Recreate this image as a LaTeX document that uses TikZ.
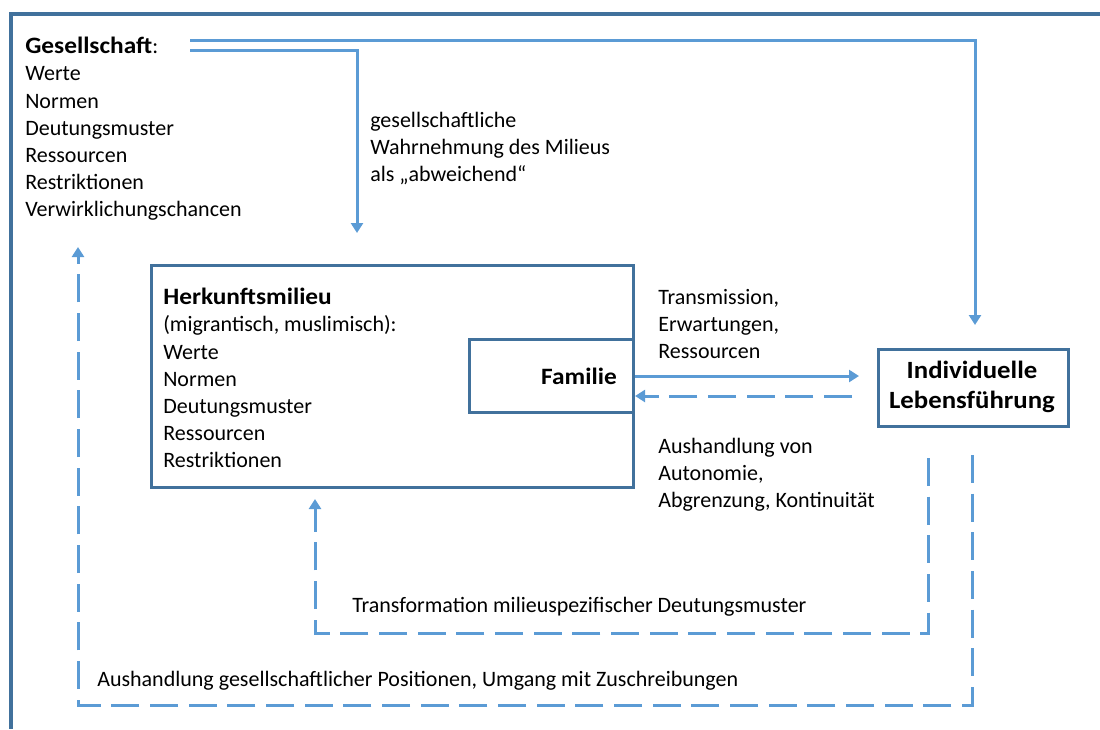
\documentclass[tikz,border=0pt]{standalone}
\usepackage{fontspec}
\setmainfont{Carlito}[BoldFeatures={FakeStretch=1.08}]
\usetikzlibrary{arrows.meta}
\definecolor{frameblue}{HTML}{41719C}
\definecolor{arrowblue}{HTML}{5B9BD5}
\newcommand{\bighead}[1]{\textbf{\fontsize{17.6}{20.4}\selectfont #1}}
\begin{document}
\begin{tikzpicture}[x=0.75pt,y=-0.75pt,
  txt/.style={inner sep=0pt,anchor=north west,align=left,font=\fontsize{16.5}{20.4}\selectfont},
  box/.style={draw=frameblue,line width=2.3pt,inner sep=0pt},
  arr/.style={draw=arrowblue,line width=2.25pt,-{Triangle[width=9pt,length=7.5pt]}},
  darr/.style={arr,dash pattern=on 21pt off 8pt}]
\useasboundingbox (0,0) rectangle (1100,729);
% outer frame
\draw[frameblue,line width=2.3pt] (1100,14) -- (11,14) -- (11,729);
% Gesellschaft
\node[txt] (ges) at (25,37) {\bighead{Gesellschaft}:\\Werte\\Normen\\Deutungsmuster\\Ressourcen\\Restriktionen\\Verwirklichungschancen};
\node[txt] (wahr) at (370,112) {gesellschaftliche\\Wahrnehmung des Milieus\\als „abweichend“};
% boxes
\node[box,anchor=north west,minimum width=361.5pt,minimum height=166.5pt] (hm) at (150,264) {};
\node[txt] (hmtxt) at (163,288) {\bighead{Herkunftsmilieu}\\(migrantisch, muslimisch):\\Werte\\Normen\\Deutungsmuster\\Ressourcen\\Restriktionen};
\node[box,anchor=north west,minimum width=123pt,minimum height=54.75pt] (fam) at (468,338) {};
\node[inner sep=0pt,anchor=east,font=\fontsize{17.6}{20.4}\selectfont\bfseries] (famtxt) at (617,376) {Familie};
\node[box,fill=white,anchor=north west,minimum width=142.5pt,minimum height=57.75pt] (ind) at (877,348) {};
\node[inner sep=0pt,align=center,font=\fontsize{18.6}{22.5}\selectfont\bfseries] (indtxt) at (972,387) {Individuelle\\Lebensführung};
% labels
\node[txt] (trans) at (658,289) {Transmission,\\Erwartungen,\\Ressourcen};
\node[txt] (aush) at (658,438) {Aushandlung von\\Autonomie,\\Abgrenzung, Kontinuität};
\node[txt] (transf) at (352,597) {Transformation milieuspezifischer Deutungsmuster};
\node[txt] (aushg) at (97,671) {Aushandlung gesellschaftlicher Positionen, Umgang mit Zuschreibungen};
% coordinates
\coordinate (g1) at (190,40);
\coordinate (g1c) at (975,40);
\coordinate (g1e) at (975,325);
\coordinate (g2) at (190,50);
\coordinate (g2c) at (357,50);
\coordinate (g2e) at (357,233);
\coordinate (solidEnd) at (859,376);
\coordinate (dStart) at (852,396);
\coordinate (t1) at (928,458);
\coordinate (t1a) at (928,633);
\coordinate (t1b) at (315,633);
\coordinate (t1e) at (315,499);
\coordinate (t2) at (972,455);
\coordinate (t2a) at (972,705);
\coordinate (t2b) at (78,705);
\coordinate (t2e) at (78,247);
% connectors
\draw[arr] (g1) -- (g1c) -- (g1e);
\draw[arr] (g2) -- (g2c) -- (g2e);
\draw[arr] (fam.east |- solidEnd) -- (solidEnd);
\draw[darr] (dStart) -- (dStart -| fam.east);
\draw[darr] (t1) -- (t1a) -- (t1b) -- (t1e);
\draw[darr] (t2) -- (t2a) -- (t2b) -- (t2e);
\end{tikzpicture}
\end{document}
